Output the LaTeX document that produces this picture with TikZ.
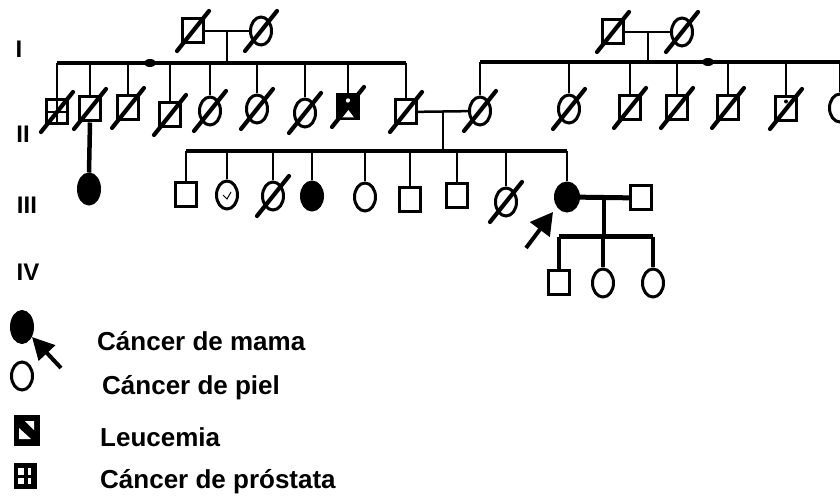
\documentclass[tikz,border=0pt]{standalone}
\usepackage{fontspec}
\setmainfont{Liberation Sans}
\usetikzlibrary{shapes.geometric,arrows.meta}
\begin{document}
\begin{tikzpicture}[x=1pt,y=-1pt,
  male/.style={draw, rectangle, line width=3pt, minimum width=21pt, minimum height=24pt, inner sep=0pt},
  female/.style={draw, ellipse, line width=3pt, minimum width=21pt, minimum height=28pt, inner sep=0pt},
  affected/.style={fill=black},
  link/.style={line width=2.5pt},
  heavylink/.style={line width=4pt},
  slash/.style={line width=4.2pt, line cap=round},
  sibdot/.style={fill=black, ellipse, minimum width=12pt, minimum height=8pt, inner sep=0pt},
  genlabel/.style={font=\bfseries\fontsize{24}{24}\selectfont, inner sep=0pt},
  legendtext/.style={anchor=west, font=\bfseries\fontsize{26}{26}\selectfont, inner sep=0pt}
]
\useasboundingbox (0,0) rectangle (840,502);
\fill[white] (0,0) rectangle (840,502);
\clip (0,0) rectangle (840,502);

% generation labels
\node[genlabel] (gI)   at (19,49)  {I};
\node[genlabel] (gII)  at (23,134) {II};
\node[genlabel] (gIII) at (27,205) {III};
\node[genlabel] (gIV)  at (28,272) {IV};

% ---------- generation I ----------
\node[male]   (I1) at (193,31) {};
\node[female] (I2) at (261,31) {};
\node[male]   (I3) at (613,32) {};
\node[female] (I4) at (682,32) {};
\draw[link] (I1) -- (I2);
\draw[link] (I3) -- (I4);
\coordinate (m1) at (227,31);
\coordinate (s1) at (227,63);
\coordinate (m2) at (648,32);
\coordinate (s2) at (648,62);
\draw[link] (m1) -- (s1);
\draw[link] (m2) -- (s2);

% ---------- generation II ----------
\node[male]   (II1)  at (57,112)  {};
\node[male]   (II2)  at (90,109)  {};
\node[male]   (II3)  at (128,108) {};
\node[male]   (II4)  at (170,115) {};
\node[female] (II5)  at (210,111) {};
\node[female] (II6)  at (257,109) {};
\node[female] (II7)  at (305,113) {};
\node[male, affected] (II8) at (348,107) {};
\node[male]   (II9)  at (406,112) {};
\node[female] (II10) at (480,111) {};
\node[female] (II11) at (569,109) {};
\node[male]   (II12) at (630,108) {};
\node[male]   (II13) at (677,108) {};
\node[male]   (II14) at (728,108) {};
\node[male]   (II15) at (786,109) {};
\node[female] (II16) at (840,108) {};

% sibship of the left family
\draw[heavylink] (II1 |- s1) -- (II9 |- s1);
\foreach \n in {II1,II2,II3,II4,II5,II6,II7,II8,II9}
  \draw[link] (\n |- s1) -- (\n.north);
\node[sibdot] (d1) at (150,63) {};

% sibship of the right family
\draw[heavylink] (II10 |- s2) -- (II16 |- s2);
\foreach \n in {II10,II11,II12,II13,II14,II15,II16}
  \draw[link] (\n |- s2) -- (\n.north);
\node[sibdot] (d2) at (708,62) {};

% prostate cancer mark
\draw[line width=2.4pt] (II1.north) -- (II1.south) (II1.west) -- (II1.east);
% leukemia mark
\fill[white] ([shift={(-6,-3)}]II8.south) -- ([shift={(6,-3)}]II8.south) -- ([shift={(0,-11)}]II8.south) -- cycle;
\fill[white] ([shift={(0,7)}]II8.north) circle (2.2);
% small mark
\fill ([shift={(0,6)}]II15.north) circle (2);

% couple of generation II
\draw[link] (II9) -- (II10);
\coordinate (m3) at (443,112);
\coordinate (s3) at (443,151);
\draw[link] (m3) -- (s3);

% ---------- generation III ----------
\node[female, affected, minimum height=30pt] (IIIa) at (89,189) {};
\draw[line width=4.5pt] (II2.south) -- (IIIa.north);

\node[male]   (III1)  at (186,195) {};
\node[female] (III2)  at (227,195) {};
\node[female] (III3)  at (273,196) {};
\node[female, affected] (III4) at (312,196) {};
\node[female] (III5)  at (365,197) {};
\node[male]   (III6)  at (410,200) {};
\node[male]   (III7)  at (457,196) {};
\node[female] (III8)  at (506,202) {};
\node[female, affected, minimum width=23pt] (III9) at (567,197) {};
\node[male]   (III10) at (641,198) {};

\draw[heavylink] (III1 |- s3) -- (III9 |- s3);
\foreach \n in {III1,III2,III3,III4,III5,III6,III7,III8,III9}
  \draw[link] (\n |- s3) -- (\n.north);

% tick inside III2
\draw[line width=1pt] ([shift={(-4,0)}]III2.center) -- ([shift={(0,4)}]III2.center) -- ([shift={(4,-3)}]III2.center);

% proband couple
\draw[line width=5pt] (III9) -- (III10);
\coordinate (m4) at (604,197);
\coordinate (s4) at (604,237);
\draw[heavylink] (m4) -- (s4);

% proband arrow
\coordinate (pt) at (553,212);
\coordinate (pb) at (526,248);
\draw[line width=4pt, -{Triangle[length=22pt,width=24pt]}] (pb) -- (pt);

% ---------- generation IV ----------
\node[male]   (IV1) at (559,283) {};
\node[female] (IV2) at (603,283) {};
\node[female] (IV3) at (653,283) {};
\draw[line width=5pt] (IV1 |- s4) -- (IV3 |- s4);
\foreach \n in {IV1,IV2,IV3}
  \draw[heavylink] (\n |- s4) -- (\n.north);

% deceased
\foreach \n in {I1,I2,I3,I4,II1,II2,II3,II4,II5,II6,II7,II8,II9,II10,II11,II12,II13,II14,II15,III3,III8}
  \draw[slash] ([shift={(-16,20)}]\n.center) -- ([shift={(16,-20)}]\n.center);

% ---------- legend ----------
\node[female, affected, minimum height=31pt] (Lmama) at (22,327) {};
\coordinate (La) at (32,337);
\coordinate (Lb) at (61,368);
\draw[line width=4pt, -{Triangle[length=22pt,width=22pt]}] (Lb) -- (La);
\node[female] (Lpiel) at (22,376) {};
\node[male, affected, minimum width=23pt, minimum height=28pt] (Lleu) at (27,430) {};
\fill[white] ([shift={(-2,-9)}]Lleu.center) -- ([shift={(7,-9)}]Lleu.center) -- ([shift={(7,0)}]Lleu.center) -- cycle;
\fill[white] ([shift={(-8,-2)}]Lleu.center) -- ([shift={(-8,9)}]Lleu.center) -- ([shift={(4,9)}]Lleu.center) -- cycle;
\node[male, affected, minimum width=20pt, minimum height=23pt] (Lpro) at (25,476) {};
\fill[white] ([shift={(-7,-8)}]Lpro.center) rectangle ([shift={(-1,-1)}]Lpro.center);
\fill[white] ([shift={(-7,2)}]Lpro.center) rectangle ([shift={(-1,8)}]Lpro.center);
\fill[white] ([shift={(3,-8)}]Lpro.center) rectangle ([shift={(6,-1)}]Lpro.center);
\fill[white] ([shift={(3,2)}]Lpro.center) rectangle ([shift={(6,8)}]Lpro.center);

\node[legendtext] (t1) at (97,341)  {Cáncer de mama};
\node[legendtext] (t2) at (102,388) {Cáncer de piel};
\node[legendtext] (t3) at (100,437) {Leucemia};
\node[legendtext] (t4) at (100,482) {Cáncer de próstata};
\end{tikzpicture}
\end{document}
